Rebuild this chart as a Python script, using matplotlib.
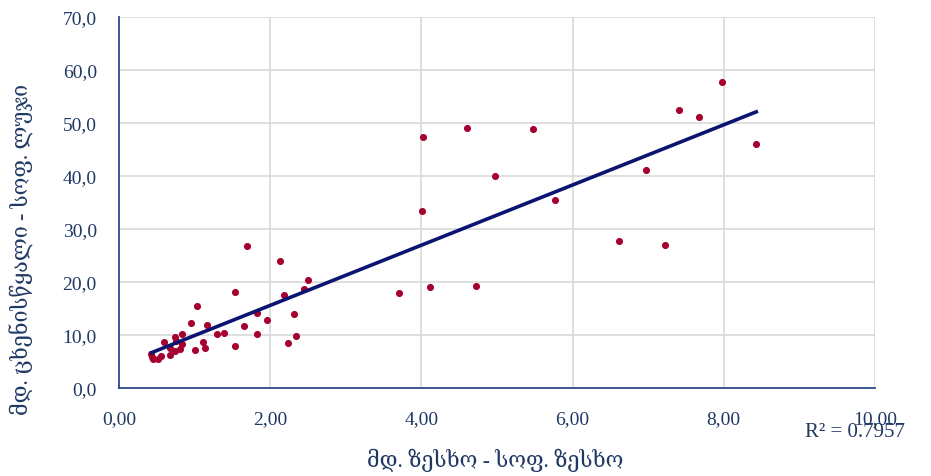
import numpy as np
import matplotlib
matplotlib.use("Agg")
import matplotlib.pyplot as plt
from matplotlib.ticker import FuncFormatter

plt.rcParams['font.family'] = ['Liberation Serif', 'DejaVu Serif']

# daily discharge pairs: Zeskho (x) vs Tskhenistskali at Luji (y)
zeskho = [0.43, 0.44, 0.45, 0.51, 0.56, 0.59, 0.67, 0.68, 0.74, 0.74, 0.76,
          0.81, 0.83, 0.84, 0.95, 1.00, 1.03, 1.11, 1.14, 1.16, 1.29, 1.39,
          1.53, 1.54, 1.65, 1.70, 1.82, 1.83, 1.96, 2.13, 2.18, 2.23, 2.31,
          2.34, 2.45, 2.50, 3.70, 4.01, 4.02, 4.11, 4.60, 4.72, 4.97, 5.48,
          5.77, 6.61, 6.97, 7.22, 7.41, 7.67, 7.98, 8.43]
luji = [6.4, 5.8, 5.5, 5.4, 6.1, 8.7, 7.6, 6.2, 9.6, 7.0, 8.9,
        7.4, 8.3, 10.1, 12.3, 7.1, 15.4, 8.6, 7.6, 11.8, 10.1, 10.3,
        8.0, 18.2, 11.6, 26.8, 14.1, 10.1, 12.8, 23.9, 17.6, 8.4, 13.9,
        9.8, 18.7, 20.4, 18.0, 33.4, 47.3, 19.1, 49.0, 19.3, 40.0, 48.8,
        35.5, 27.8, 41.1, 27.0, 52.5, 51.2, 57.8, 46.0]
r2_text = "R² = 0.7957"

txt = '#1F3864'

fig = plt.figure(figsize=(9.31, 4.77), dpi=100)
ax = fig.add_axes([0.1278, 0.1845, 0.812, 0.778])

ax.scatter(zeskho, luji, s=26, color='#A5002E', zorder=3, linewidths=0)

# linear trend line
k, b = np.polyfit(zeskho, luji, 1)
xs = np.array([min(zeskho), max(zeskho)])
ax.plot(xs, k * xs + b, color='#0B1470', lw=2.6, zorder=4)

ax.set_xlim(0, 10)
ax.set_ylim(0, 70)
ax.set_xticks(np.arange(0, 10.1, 2))
ax.set_yticks(np.arange(0, 70.1, 10))
ax.xaxis.set_major_formatter(FuncFormatter(lambda v, p: f"{v:.2f}".replace('.', ',')))
ax.yaxis.set_major_formatter(FuncFormatter(lambda v, p: f"{v:.1f}".replace('.', ',')))
ax.tick_params(length=0, labelsize=14, colors=txt)
ax.tick_params(axis='x', pad=16)
ax.tick_params(axis='y', pad=16)
ax.grid(True, color='#D9D9D9', lw=1.2)
ax.set_axisbelow(True)

for s in ['top', 'right']:
    ax.spines[s].set_visible(False)
for s in ['left', 'bottom']:
    ax.spines[s].set_color('#2E4A8C')
    ax.spines[s].set_linewidth(1.3)

ax.set_xlabel("მდ. ზესხო - სოფ. ზესხო", fontsize=15.5, color=txt)
ax.set_ylabel("მდ. ცხენისწყალი - სოფ. ლუჯი", fontsize=15.5, color=txt)
ax.xaxis.set_label_coords(0.497, -0.16)
ax.yaxis.set_label_coords(-0.113, 0.377)

fig.text(0.865, 0.094, r2_text, fontsize=15, color=txt, va='center')

fig.savefig('out.png', dpi=100)
